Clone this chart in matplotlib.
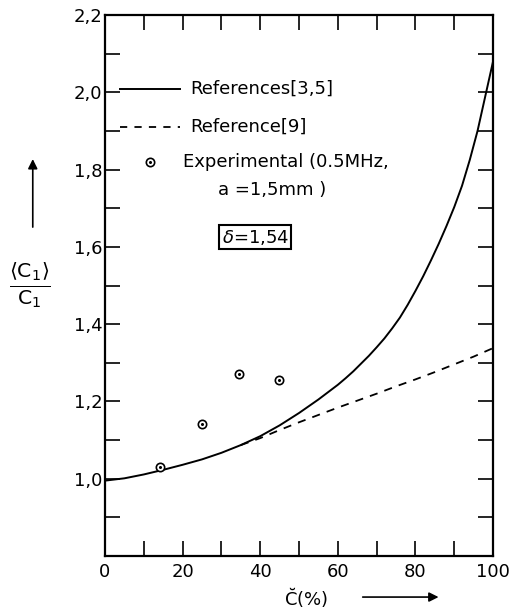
import numpy as np
import matplotlib
matplotlib.use("Agg")
from matplotlib import pyplot as plt
from matplotlib.ticker import MultipleLocator, FuncFormatter

# data
c_ref35 = [0, 5, 10, 15, 20, 25, 30, 35, 40, 45, 50, 55, 60, 62, 64, 66, 68, 70, 72, 74,
           76, 78, 80, 82, 84, 86, 88, 90, 92, 94, 96, 98, 100]
v_ref35 = [0.995, 1.001, 1.011, 1.023, 1.036, 1.05, 1.067, 1.087, 1.11, 1.138, 1.17, 1.205,
           1.243, 1.26, 1.278, 1.298, 1.318, 1.34, 1.363, 1.389, 1.417, 1.450, 1.486,
           1.524, 1.565, 1.608, 1.654, 1.703, 1.758, 1.825, 1.90, 1.99, 2.08]
c_ref9 = [35, 40, 45, 50, 55, 60, 65, 70, 75, 80, 85, 90, 95, 100]
v_ref9 = [1.087, 1.105, 1.126, 1.146, 1.165, 1.184, 1.202, 1.22, 1.239, 1.257, 1.276, 1.296,
          1.316, 1.338]
c_exp = [14.3, 24.9, 34.5, 44.8]
v_exp = [1.03, 1.141, 1.272, 1.256]

plt.rcParams["font.family"] = "DejaVu Sans"
plt.rcParams["mathtext.fontset"] = "dejavusans"

fig = plt.figure(figsize=(5.12, 6.13), dpi=100)
ax = fig.add_axes([0.205, 0.093, 0.758, 0.8825])

ax.plot(c_ref35, v_ref35, color="black", lw=1.4)
ax.plot(c_ref9, v_ref9, color="black", lw=1.3, linestyle=(0, (4.5, 4)))
ax.plot(c_exp, v_exp, linestyle="none", marker="o", ms=6, mfc="white", mec="black", mew=1.2)
ax.plot(c_exp, v_exp, linestyle="none", marker="o", ms=1.2, color="black")

ax.set_xlim(0, 100)
ax.set_ylim(0.8, 2.2)
ax.xaxis.set_major_locator(MultipleLocator(20))
ax.xaxis.set_minor_locator(MultipleLocator(10))
ax.yaxis.set_major_locator(MultipleLocator(0.2))
ax.yaxis.set_minor_locator(MultipleLocator(0.1))


def coma(v, pos):
    if v < 0.95:
        return ""
    return ("%.1f" % v).replace(".", ",")


ax.yaxis.set_major_formatter(FuncFormatter(coma))
ax.tick_params(which="both", direction="in", length=11, width=1.2,
               top=True, right=True, labelsize=13)
ax.tick_params(axis="y", pad=2)
ax.tick_params(axis="x", pad=5)
for s in ax.spines.values():
    s.set_linewidth(1.6)

# legend drawn by hand
tr = ax.transAxes
ax.plot([0.039, 0.193], [0.863, 0.863], color="black", lw=1.4, transform=tr, clip_on=False)
ax.plot([0.039, 0.193], [0.793, 0.793], color="black", lw=1.3, linestyle=(0, (4, 4)),
        transform=tr, clip_on=False)
ax.plot([0.116], [0.728], marker="o", ms=6, mfc="white", mec="black", mew=1.2, transform=tr)
ax.plot([0.116], [0.728], marker="o", ms=1.2, color="black", transform=tr)
ax.text(0.219, 0.863, "References[3,5]", transform=tr, fontsize=13, va="center")
ax.text(0.219, 0.793, "Reference[9]", transform=tr, fontsize=13, va="center")
ax.text(0.201, 0.728, "Experimental (0.5MHz,", transform=tr, fontsize=13, va="center")
ax.text(0.291, 0.677, "a =1,5mm )", transform=tr, fontsize=13, va="center")

ax.text(38.7, 1.625, r"$\delta$=1,54", fontsize=13, ha="center", va="center",
        bbox=dict(boxstyle="square,pad=0.15", fc="white", ec="black", lw=1.5))

# axis labels with arrows
fig.text(0.059, 0.535, r"$\frac{\langle \mathrm{C}_1\rangle}{\mathrm{C}_1}$", fontsize=21,
         ha="center", va="center")
fig.add_artist(matplotlib.patches.FancyArrowPatch((0.064, 0.625), (0.064, 0.745),
               transform=fig.transFigure, arrowstyle="-|>", mutation_scale=14,
               color="black", lw=1.2))
fig.text(0.598, 0.025, r"$\breve{\mathrm{C}}$(%)", fontsize=13, ha="center", va="center")
fig.add_artist(matplotlib.patches.FancyArrowPatch((0.703, 0.026), (0.862, 0.026),
               transform=fig.transFigure, arrowstyle="-|>", mutation_scale=14,
               color="black", lw=1.2))

fig.savefig("out.png", dpi=100)
